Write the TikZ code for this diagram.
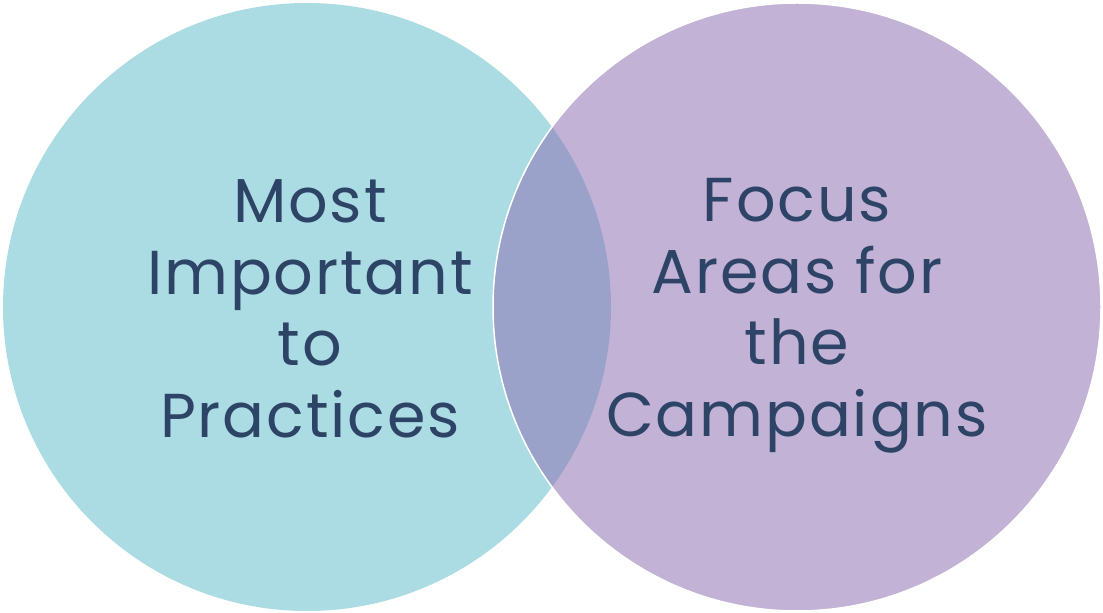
\documentclass[tikz,border=0pt]{standalone}
\usepackage{fontspec}
\setmainfont{Poppins}[LetterSpace=3]
\definecolor{leftc}{RGB}{171,220,227}
\definecolor{rightc}{RGB}{143,113,179}
\definecolor{txt}{RGB}{46,68,102}
\begin{document}
\begin{tikzpicture}[x=1pt,y=1pt,
  venn/.style={circle, inner sep=0pt, minimum size=608pt},
  lbl/.style={align=center, text=txt, font=\fontsize{62}{71.5}\selectfont, inner sep=0pt}]
\useasboundingbox (0,0) rectangle (1103,613);
\node[venn, fill=leftc] (L) at (307,306) {};
\node[venn, fill=rightc, fill opacity=0.54, draw=white, line width=1.5pt] (R) at (797,306) {};
\node[lbl] (lt) at (310,304) {Most\\Important\\to\\Practices};
\node[lbl] (rt) at (797,297) {Focus\\Areas for\\the\\Campaigns};
\end{tikzpicture}
\end{document}
